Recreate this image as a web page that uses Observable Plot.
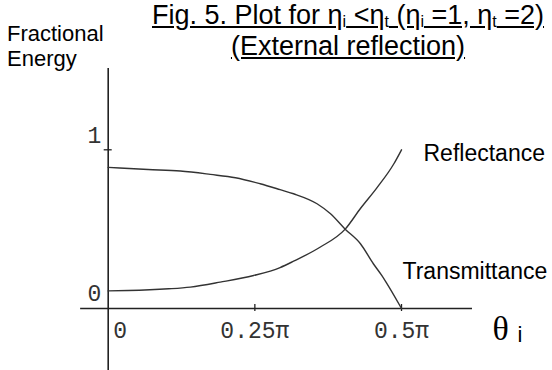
<!DOCTYPE html>
<html>
<head>
<meta charset="utf-8">
<script src="https://cdn.jsdelivr.net/npm/d3@7"></script>
<script src="https://cdn.jsdelivr.net/npm/@observablehq/plot@0.6"></script>
<style>
  body { margin: 0; background: #fff; }
  #chart { position: relative; width: 552px; height: 370px; overflow: hidden;
           font-family: "Liberation Sans", Arial, sans-serif; color: #000; }
  #head { position: relative; height: 68px; }
  .ylabel { position: absolute; left: 7px; font-size: 22px; line-height: 25px; white-space: nowrap; }
  .title { position: absolute; left: 142px; width: 412px; text-align: center;
           font-size: 27px; line-height: 30px; text-decoration: underline; white-space: nowrap; }
  .title sub { font-size: 16px; vertical-align: -3px; line-height: 0; }
  #plot svg { display: block; }
</style>
</head>
<body>
<div id="chart">
  <div id="head">
    <div class="ylabel" style="top:21px">Fractional</div>
    <div class="ylabel" style="top:46px">Energy</div>
    <div class="title" style="top:0px">Fig. 5. Plot for η<sub>i</sub> &lt;η<sub>t</sub> (η<sub>i</sub> =1, η<sub>t</sub> =2)</div>
    <div class="title" style="top:31px">(External reflection)</div>
  </div>
  <div id="plot"></div>
</div>
<script>
// Angle of incidence in units of π, and fractional energy for each curve
const angleR = [0, 0.034, 0.103, 0.14, 0.191, 0.248, 0.293, 0.316, 0.361, 0.404, 0.43, 0.458, 0.487, 0.5];
const reflectance = [0.111, 0.113, 0.124, 0.135, 0.166, 0.208, 0.258, 0.298, 0.386, 0.5, 0.63, 0.76, 0.912, 1];

const angleT = [0, 0.068, 0.123, 0.174, 0.217, 0.259, 0.293, 0.316, 0.356, 0.379, 0.404, 0.43, 0.452, 0.466, 0.472, 0.5];
const transmittance = [0.889, 0.876, 0.866, 0.845, 0.824, 0.786, 0.749, 0.723, 0.66, 0.597, 0.5, 0.408, 0.282, 0.21, 0.176, 0];

const seriesNames = ["Reflectance", "Transmittance"];

// Axis ticks
const xTicks = [0, 0.25, 0.5];
const xTickLabels = ["0", "0.25π", "0.5π"];
const yTicks = [0, 1];
const yTickLabels = ["0", "1"];

const rows = [
  ...angleR.map((a, i) => ({series: seriesNames[0], angle: a, value: reflectance[i]})),
  ...angleT.map((a, i) => ({series: seriesNames[1], angle: a, value: transmittance[i]}))
];
const rowsR = rows.filter(d => d.series === seriesNames[0]);
const rowsT = rows.filter(d => d.series === seriesNames[1]);

const axisColor = "#222";
const tickFont = "'Liberation Mono', 'Courier New', monospace";

const chart = Plot.plot({
  width: 552,
  height: 302,
  margin: 0,
  style: {background: "transparent", overflow: "visible", fontFamily: "'Liberation Sans', Arial, sans-serif"},
  x: {domain: [-0.1836, 0.7574], axis: null},
  y: {domain: [-0.3907, 1.5123], axis: null},
  marks: [
    // axes crossing at the origin
    Plot.ruleX([0], {stroke: axisColor, strokeWidth: 1.6}),
    Plot.ruleY([0], {x1: -0.047, x2: 0.621, stroke: axisColor, strokeWidth: 1.6}),
    // tick marks
    Plot.ruleX(xTicks.slice(1), {x: d => d, y1: 0, y2: 0, insetTop: -4, insetBottom: -3, stroke: axisColor, strokeWidth: 1.3}),
    Plot.ruleY(yTicks.slice(1), {y: d => d, x1: 0, x2: 0, insetLeft: -4, insetRight: -4, stroke: axisColor, strokeWidth: 1.3}),
    // tick labels
    Plot.text(xTicks.slice(0, 1), {x: d => d, y: 0, text: (d, i) => xTickLabels[i], textAnchor: "start",
      lineAnchor: "bottom", dx: 5, dy: 30, fontFamily: tickFont, fontSize: 23, fill: "#333"}),
    Plot.text(xTicks.slice(1), {x: d => d, y: 0, text: (d, i) => xTickLabels[i + 1], textAnchor: "middle",
      lineAnchor: "bottom", dy: 30, fontFamily: tickFont, fontSize: 23, fill: "#333"}),
    Plot.text(yTicks, {x: 0, y: d => d, text: (d, i) => yTickLabels[i], textAnchor: "end",
      lineAnchor: "bottom", dx: -7, dy: -7, fontFamily: tickFont, fontSize: 23, fill: "#333"}),
    // curves
    Plot.line(rows, {x: "angle", y: "value", z: "series", curve: "monotone-x", stroke: "#333", strokeWidth: 1.4}),
    // curve labels
    Plot.text(rowsR, Plot.selectLast({x: "angle", y: "value", text: "series", textAnchor: "start",
      lineAnchor: "bottom", dx: 22, dy: 11, fontSize: 23, fill: "#000"})),
    Plot.text(rowsT, Plot.selectLast({x: "angle", y: "value", text: "series", textAnchor: "start",
      lineAnchor: "bottom", dx: 1, dy: -29, fontSize: 23, fill: "#000"})),
    // horizontal axis title θ with subscript i
    Plot.text(["θ"], {text: d => d, frameAnchor: "bottom-right", textAnchor: "start", lineAnchor: "bottom",
      dx: -60, dy: -31, fontFamily: "'Liberation Serif', 'Times New Roman', serif", fontSize: 34, fill: "#000"}),
    Plot.text(["i"], {text: d => d, frameAnchor: "bottom-right", textAnchor: "start", lineAnchor: "bottom",
      dx: -35, dy: -29, fontSize: 22, fill: "#000"})
  ]
});

document.getElementById("plot").appendChild(chart);
</script>
</body>
</html>
